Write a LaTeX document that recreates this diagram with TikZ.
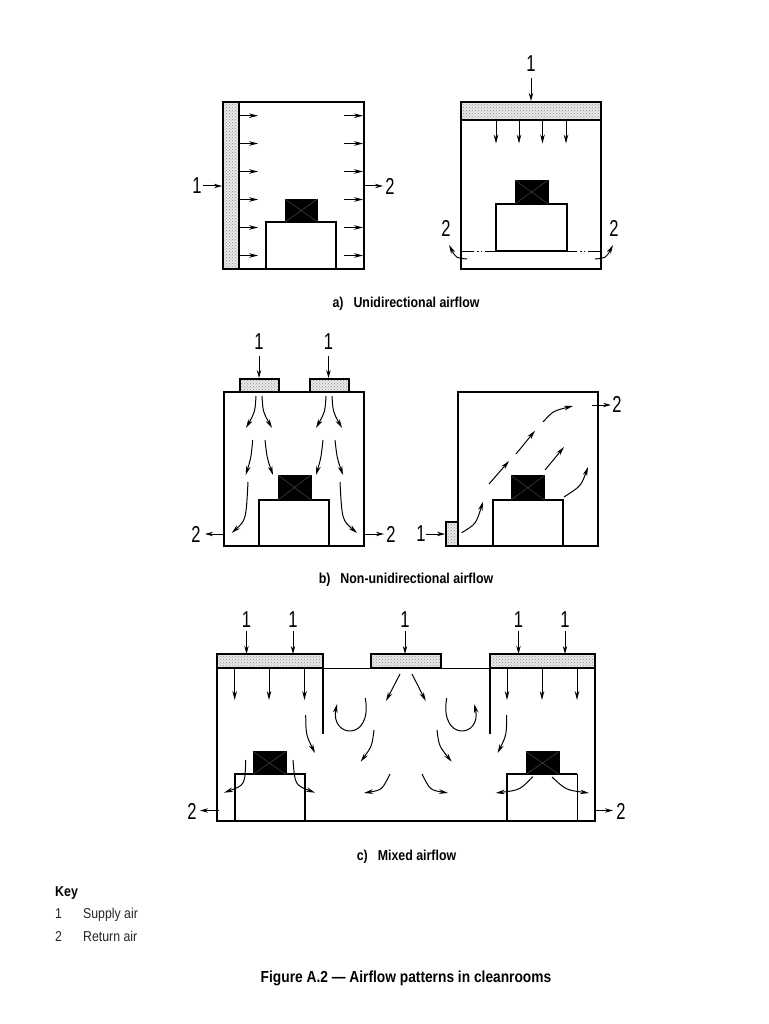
\documentclass[tikz,border=0pt]{standalone}
\usepackage{fontspec}
\setmainfont{Liberation Sans}
\newfontfamily\numf[FakeStretch=0.72]{Liberation Sans}
\newfontfamily\capf[FakeStretch=0.86]{Liberation Sans}
\usetikzlibrary{arrows.meta,patterns}
\tikzset{
  wall/.style={draw=black,line width=2pt},
  filterbox/.style={wall,preaction={fill=gray!18},pattern=crosshatch dots,pattern color=gray!85},
  machine/.style={fill=black,draw=black,line width=0.8pt},
  cross/.style={draw=gray!55!black,line width=0.5pt},
  flow/.style={draw=black,line width=1pt,-{Stealth[length=9pt,width=4.6pt]}},
  keyarrow/.style={draw=black,line width=1pt,-{Stealth[length=8pt,width=4.4pt]}},
  num/.style={font=\fontsize{23}{23}\selectfont\numf,inner sep=0pt},
  captext/.style={font=\fontsize{14.4}{16}\selectfont\capf\bfseries,inner sep=0pt,anchor=base},
  keytext/.style={font=\fontsize{14.3}{16}\selectfont\capf,inner sep=0pt,anchor=base west,text=black!85},
}
\begin{document}
\begin{tikzpicture}[x=1pt,y=-1pt]
\useasboundingbox (0,0) rectangle (768,1024);
\fill[white] (0,0) rectangle (768,1024);
% ---------- a) left
\draw[filterbox] (223,101.7) rectangle (238.5,269);
\draw[wall] (223,101.7) rectangle (364,269);
\draw[wall] (266,269) |- (336,222) -- (336,269);
\fill[machine] (285,199) rectangle (317.5,222);
\draw[cross] (285,199) -- (317.5,222) (285,222) -- (317.5,199);
\foreach \y in {115.7,143.5,171.5,199.5,227.5,255.5}{
  \draw[flow] (239,\y) -- (258,\y);
  \draw[flow] (344,\y) -- (363,\y);
}
\node[num] (a1) at (197,186) {1};
\draw[keyarrow] (203,186) -- (222,186);
\node[num] (a2) at (390,186) {2};
\draw[keyarrow] (365,186) -- (383,186);
% ---------- a) right
\draw[filterbox] (461,101.7) rectangle (601,120.5);
\draw[wall] (461,101.7) rectangle (601,269);
\draw[wall] (496,251) |- (566.5,204) -- (566.5,251) -- cycle;
\fill[machine] (515,180) rectangle (548,204);
\draw[cross] (515,180) -- (548,204) (515,204) -- (548,180);
\foreach \x in {496,519,542.5,566}{ \draw[flow] (\x,121.5) -- (\x,143.5); }
\draw[line width=1pt,dash pattern=on 13pt off 3pt on 1.5pt off 2pt on 1.5pt off 3pt] (461,251) -- (496,251);
\draw[line width=1pt,dash pattern=on 13pt off 3pt on 1.5pt off 2pt on 1.5pt off 3pt] (601,251) -- (566.5,251);
\node[num] (b1) at (531,64) {1};
\draw[keyarrow] (531,78) -- (531,101);
\node[num] (b2) at (446,228) {2};
\node[num] (b3) at (614,228) {2};
\draw[flow] (467,259) .. controls (456,258) .. (449,245);
\draw[flow] (595,259) .. controls (606,258) .. (613,245);
\node[captext] (capa) at (406,307) {a)\hspace{10pt}Unidirectional airflow};
% ---------- b) left
\draw[filterbox] (239.5,378.5) rectangle (279,392);
\draw[filterbox] (310,378.5) rectangle (349,392);
\draw[wall] (224,392) rectangle (364,546);
\draw[wall] (259,546) |- (329,500) -- (329,546);
\fill[machine] (278,475) rectangle (311,500);
\draw[cross] (278,475) -- (311,500) (278,500) -- (311,475);
\draw[flow] (256,396) .. controls (255,412) .. (246,428);
\draw[flow] (262,396) .. controls (263,412) .. (272,428);
\draw[flow] (252.7,440) .. controls (251,458) .. (245.7,475);
\draw[flow] (265,440) .. controls (267,458) .. (273,475);
\draw[flow] (248,482) .. controls (246,520) .. (231.7,533);
\draw[flow] (326,396) .. controls (325,412) .. (316,428);
\draw[flow] (332,396) .. controls (333,412) .. (342,428);
\draw[flow] (323,440) .. controls (321,458) .. (316,475);
\draw[flow] (335,440) .. controls (337,458) .. (343,475);
\draw[flow] (340,482) .. controls (342,520) .. (357,533);
\node[num] (c1) at (259,342) {1};
\node[num] (c2) at (328.5,342) {1};
\draw[keyarrow] (259,356) -- (259,378);
\draw[keyarrow] (328.5,356) -- (328.5,378);
\node[num] (c3) at (196,534) {2};
\node[num] (c4) at (391,534) {2};
\draw[keyarrow] (224,534) -- (205,534);
\draw[keyarrow] (365,534) -- (384,534);
% ---------- b) right
\draw[filterbox] (446,522) rectangle (458,546);
\draw[wall] (458,392) rectangle (598,546);
\draw[wall] (493,546) |- (563,500) -- (563,546);
\fill[machine] (511,475.5) rectangle (544.5,500);
\draw[cross] (511,475.5) -- (544.5,500) (511,500) -- (544.5,475.5);
\draw[flow] (461.7,532.7) .. controls (476,524) .. (483,501.7);
\draw[flow] (489,484) -- (509,461);
\draw[flow] (516,454) -- (535,430.7);
\draw[flow] (543,422) .. controls (553,411) .. (573,406);
\draw[flow] (545,470) -- (564,447);
\draw[flow] (564,497) .. controls (581,486) .. (588,467);
\node[num] (d1) at (617,404) {2};
\draw[keyarrow] (592,405) -- (611,405);
\node[num] (d2) at (421,534) {1};
\draw[keyarrow] (426,534) -- (445,534);
\node[captext] (capb) at (406,583) {b)\hspace{10pt}Non-unidirectional airflow};
% ---------- c)
\draw[filterbox] (217,654) rectangle (322.5,668.3);
\draw[filterbox] (371,654) rectangle (441,668.3);
\draw[filterbox] (489.5,654) rectangle (595,668.3);
\draw[wall] (217,668.3) -- (217,821) -- (595,821) -- (595,668.3);
\draw[line width=1.5pt] (322.5,668.3) -- (489.5,668.3);
\draw[wall] (322.5,668.3) -- (322.5,734);
\draw[wall] (489.5,668.3) -- (489.5,734);
\draw[wall] (234.7,821) |- (305,774.3) -- (305,821);
\draw[wall] (506.7,821) -- (506.7,774.3) -- (577,774.3);
\draw[line width=0.8pt] (577,774.3) -- (577,821);
\fill[machine] (253,751.5) rectangle (286,774.5);
\draw[cross] (253,751.5) -- (286,774.5) (253,774.5) -- (286,751.5);
\fill[machine] (526,751.5) rectangle (559,774.5);
\draw[cross] (526,751.5) -- (559,774.5) (526,774.5) -- (559,751.5);
\foreach \x in {234.7,269,304.5,507,542,577}{ \draw[flow] (\x,669) -- (\x,700); }
\draw[flow] (305.7,715) .. controls (306,735) .. (315,753);
\draw[flow] (506.7,715) .. controls (506.5,735) .. (497.7,753);
\draw[flow] (245.7,760) .. controls (245,785) .. (224,792.7);
\draw[flow] (293,760) .. controls (295,785) .. (315,792.7);
\draw[flow] (532.7,776.7) .. controls (520,790) .. (495.7,793);
\draw[flow] (552,777) .. controls (566,790) .. (589,793);
\draw[flow] (400,674) -- (386,701);
\draw[flow] (412,674) -- (425.7,701);
\draw[flow] (365.3,698) .. controls (373,742) and (330,738) .. (337,704);
\draw[flow] (446.7,698) .. controls (439,742) and (482,738) .. (474.3,704);
\draw[flow] (374,730) .. controls (372,746) .. (360.7,761.7);
\draw[flow] (437,730) .. controls (439,746) .. (451.7,761.7);
\draw[flow] (390,774) .. controls (382,790) .. (364,793);
\draw[flow] (422,774) .. controls (430,790) .. (448,793);
\node[num] (e1) at (246.5,620) {1};
\node[num] (e2) at (293,620) {1};
\node[num] (e3) at (405,620) {1};
\node[num] (e4) at (518.5,620) {1};
\node[num] (e5) at (565,620) {1};
\foreach \x in {246.5,293,405,518.5,565}{ \draw[keyarrow] (\x,631) -- (\x,654); }
\node[num] (e6) at (192,811) {2};
\node[num] (e7) at (621,811) {2};
\draw[keyarrow] (219,810.5) -- (200,810.5);
\draw[keyarrow] (594,810.5) -- (613,810.5);
\node[captext] (capc) at (406.5,860) {c)\hspace{10pt}Mixed airflow};
% ---------- key
\node[captext,anchor=base west] (k0) at (55,896) {Key};
\node[keytext] (k1) at (55,918) {1};
\node[keytext] (k2) at (83,918) {Supply air};
\node[keytext] (k3) at (55,941) {2};
\node[keytext] (k4) at (83,941) {Return air};
\node[font=\fontsize{16}{18}\selectfont\capf\bfseries,inner sep=0pt,anchor=base] (title) at (406,982.5) {Figure A.2 — Airflow patterns in cleanrooms};
\end{tikzpicture}
\end{document}
